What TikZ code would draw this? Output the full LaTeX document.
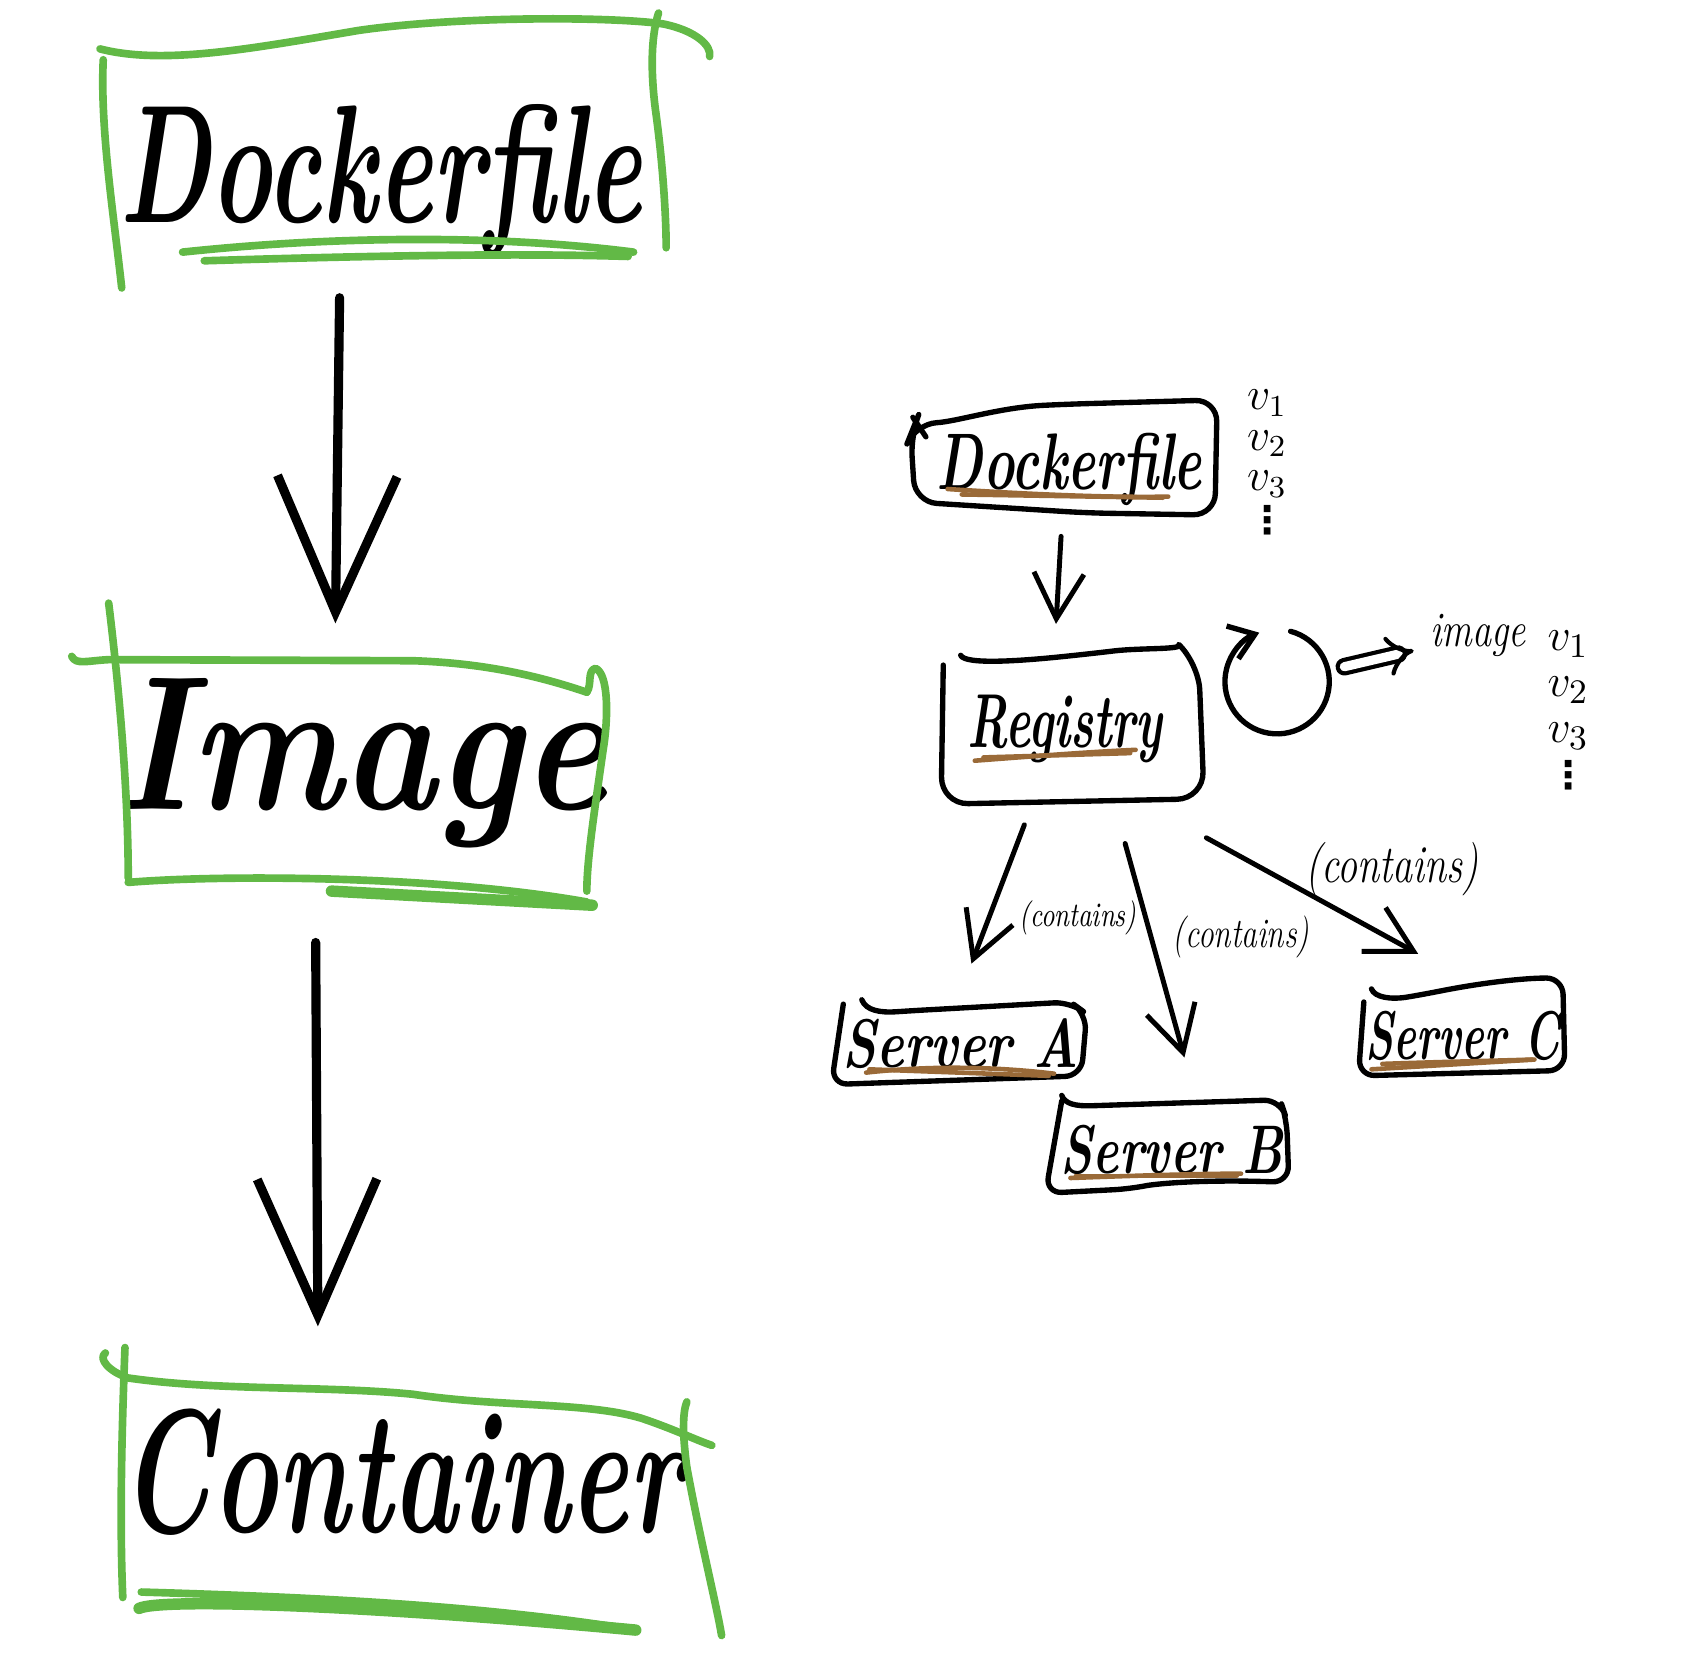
\documentclass[tikz,border=0pt]{standalone}
\usepackage{fontspec}
\newfontfamily\dotsfont{DejaVu Sans}
\usetikzlibrary{arrows.meta, positioning}
\definecolor{sketchgreen}{HTML}{62B946}
\definecolor{sketchbrown}{HTML}{9A6A38}
\newcommand{\handsize}[1]{\fontsize{#1}{#1}\selectfont\bfseries\itshape}
\newcommand{\labelsize}[1]{\fontsize{#1}{#1}\selectfont\itshape}
\newcommand{\vdotmark}{{\dotsfont\bfseries\fontsize{10}{10}\selectfont ⋮}}
\tikzstyle{word} = [inner sep=0pt, anchor=base]
\tikzstyle{lbl} = [inner sep=0pt, xscale=0.75]
\tikzstyle{versions} = [inner sep=0pt, anchor=north, align=center]
\tikzstyle{gstroke} = [draw=sketchgreen, line width=2pt, line cap=round, line join=round]
\tikzstyle{bstroke} = [draw, line width=1.4pt, line cap=round, line join=round]
\tikzstyle{uline} = [draw=sketchbrown, line width=1.2pt, line cap=round]
\tikzstyle{bigarrow} = [line width=2.4pt, line cap=round, -{Straight Barb[length=12.5mm, width=11mm]}]
\tikzstyle{smallarrow} = [line width=1.3pt, line cap=round, -{Straight Barb[length=4.2mm, width=4.6mm]}]
\tikzstyle{implies} = [line width=1.1pt, double distance=2.4pt, line cap=round, -{Implies}]

\begin{document}
\begin{tikzpicture}[x=0.01cm, y=-0.01cm]
\useasboundingbox (0,0) rectangle (1568,1540);

% left column
\node (dock) at (350,205) [word, font={\handsize{44}}, xscale=0.62] {Dockerfile};
\node (img) at (332,745) [word, font={\handsize{50}}, xscale=0.84] {Image};
\node (cont) at (370,1410) [word, font={\handsize{46}}, xscale=0.63] {Container};

\draw[gstroke] (92,45) .. controls (150,60) and (230,45) .. (330,28) .. controls (420,15) and (560,15) .. (610,22) .. controls (640,28) and (655,42) .. (653,52);
\draw[gstroke] (95,55) .. controls (92,120) and (105,200) .. (112,265);
\draw[gstroke] (606,12) .. controls (600,30) and (598,60) .. (603,100) .. controls (610,150) and (613,200) .. (613,228);
\draw[gstroke] (168,232) .. controls (300,218) and (450,215) .. (583,232);
\draw[gstroke] (188,240) .. controls (350,235) and (480,233) .. (578,236);

\draw[gstroke] (100,555) .. controls (108,620) and (118,720) .. (118,808);
\draw[gstroke] (66,604) .. controls (70,612) and (80,608) .. (100,607) -- (380,608) .. controls (440,610) and (490,620) .. (540,637);
\draw[gstroke] (540,637) .. controls (545,630) and (540,617) .. (548,615) .. controls (560,620) and (560,660) .. (555,690) .. controls (548,740) and (540,790) .. (540,820);
\draw[gstroke] (118,812) .. controls (200,805) and (400,805) .. (540,830);
\draw[gstroke, line width=3pt] (305,820) -- (545,833);

\draw[gstroke] (97,1245) .. controls (90,1250) and (100,1262) .. (118,1268) .. controls (200,1280) and (300,1275) .. (380,1283) .. controls (460,1295) and (540,1290) .. (590,1305) .. controls (620,1315) and (640,1325) .. (655,1330);
\draw[gstroke] (115,1240) .. controls (112,1320) and (110,1400) .. (113,1470);
\draw[gstroke] (632,1290) .. controls (628,1300) and (628,1320) .. (632,1350) .. controls (645,1420) and (660,1480) .. (664,1505);
\draw[gstroke] (130,1465) .. controls (300,1470) and (450,1478) .. (585,1500);
\draw[gstroke, line width=3pt] (128,1480) .. controls (150,1470) and (350,1478) .. (585,1500);

\path ([xshift=-3.7mm]dock.south) edge[bigarrow, shorten <=3.7mm, shorten >=5mm] ([xshift=-2.4mm]img.north)
      ([xshift=-4.2mm]img.south) edge[bigarrow, shorten <=8.6mm, shorten >=7.5mm] ([xshift=-7.7mm]cont.north);

% right side
\node (sdock) at (984,450) [word, font={\handsize{21}}, xscale=0.66] {Dockerfile};
\node (reg) at (980,688) [word, font={\handsize{20}}, xscale=0.62] {Registry};
\node (srvA) at (884,982) [word, font={\handsize{18}}, xscale=0.76] {Server A};
\node (srvB) at (1078,1080) [word, font={\handsize{18}}, xscale=0.72] {Server B};
\node (srvC) at (1346,975) [word, font={\handsize{18}}, xscale=0.63] {Server C};

\draw[bstroke, rounded corners=2mm] (842,390) .. controls (880,388) and (920,375) .. (980,372) -- (1120,368) -- (1118,474) -- (1000,472) -- (842,462) -- (838,400) -- cycle;
\draw[bstroke] (840,384) -- (852,402);
\draw[bstroke, rounded corners=2.5mm] (884,603) .. controls (888,612) and (940,608) .. (1000,602) .. controls (1050,596) and (1090,598) .. (1103,610) -- (1108,735) -- (866,740) -- (868,612);
\draw[bstroke, rounded corners=1.5mm] (793,920) .. controls (797,930) and (810,932) .. (840,930) -- (985,922) -- (1000,933) -- (995,990) -- (765,998) -- (776,924);
\draw[bstroke, rounded corners=1.5mm] (977,1008) .. controls (980,1016) and (990,1018) .. (1020,1017) -- (1178,1012) -- (1184,1030) -- (1186,1088) .. controls (1100,1085) and (1060,1090) .. (1040,1094) -- (962,1098) -- (977,1013);
\draw[bstroke, rounded corners=1.5mm] (1262,910) .. controls (1265,918) and (1280,920) .. (1310,915) .. controls (1360,905) and (1400,900) .. (1438,900) -- (1440,985) -- (1250,990) -- (1255,922);

\draw[uline] (872,450) .. controls (950,455) and (1020,458) .. (1075,457);
\draw[uline] (885,455) -- (1070,458);
\draw[uline] (897,700) .. controls (950,696) and (1000,692) .. (1045,690);
\draw[uline] (905,697) -- (1040,693);
\draw[uline] (797,987) .. controls (860,980) and (920,982) .. (970,988);
\draw[uline] (800,984) -- (965,990);
\draw[uline] (985,1084) .. controls (1040,1082) and (1100,1080) .. (1142,1080);
\draw[uline] (990,1082) -- (1138,1082);
\draw[uline] (1262,984) -- (1412,975);
\draw[uline] (1272,979) .. controls (1330,977) and (1380,976) .. (1410,975);

% versions
\node (vers1) at (1166,358) [versions, font=\fontsize{12}{10.6}\selectfont] {$v_1$\\$v_2$\\$v_3$\\[0.2mm]\vdotmark};

\node (loop) at (1175,628) [circle, minimum size=9.6mm, inner sep=0pt] {};
\draw[bstroke, -{Straight Barb[length=2.2mm, width=3.2mm]}] (loop.75) arc[start angle=-75, end angle=250, radius=48];
\node (imgtxt) at (1360,595) [word, font={\labelsize{13}}, xscale=0.77] {image};
\path (loop) edge[implies, shorten <=1.5mm, shorten >=1.5mm] (imgtxt);

\node (vers2) at (1443,580) [versions, font=\fontsize{13}{12}\selectfont] {$v_1$\\$v_2$\\$v_3$\\\vdotmark};

% connectors
\path ([xshift=-0.6mm]sdock.south) edge[smallarrow, shorten <=2.8mm, shorten >=6.5mm] ([xshift=-1.2mm]reg.north)
      ([xshift=-1.6mm]reg.south) edge[smallarrow, shorten <=6mm, shorten >=5.3mm] ([xshift=-0.9mm]srvA.north)
      ([xshift=3.5mm]reg.south) edge[smallarrow, shorten <=7.6mm, shorten >=6.4mm] ([xshift=2.9mm]srvB.north)
      ([xshift=13mm, yshift=-6.8mm]reg.south) edge[smallarrow] ([xshift=-4.1mm, yshift=5.2mm]srvC.north);

\node (lblA) at (992,845) [lbl, font={\labelsize{9}}] {(contains)};
\node (lblB) at (1142,862) [lbl, font={\labelsize{11}}] {(contains)};
\node (lblC) at (1281,800) [lbl, font={\labelsize{14}}] {(contains)};
\end{tikzpicture}
\end{document}
